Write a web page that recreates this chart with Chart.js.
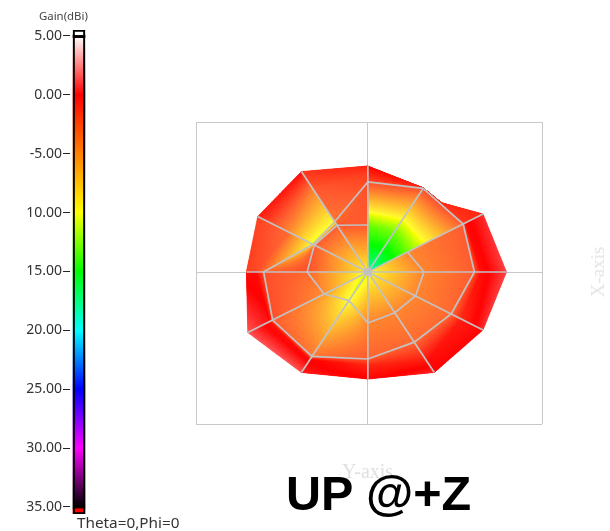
<!DOCTYPE html>
<html>
<head>
<meta charset="utf-8">
<title>UP @+Z</title>
<style>
  body { margin: 0; background: #fff; width: 610px; height: 531px; overflow: hidden; position: relative; }
  canvas { position: absolute; left: 0; top: 0; }
  .note { position: absolute; white-space: nowrap; }
  #gainTitle { left: 39px; top: 8px; font: 11.4px "Noto Sans", sans-serif; color: #444; }
  #cutLabel { left: 77px; top: 513px; font: 15.3px "Noto Sans", sans-serif; line-height: 18px; color: #333; }
  #yAxisName { left: 342px; top: 460px; font: 20px "Liberation Serif", serif; color: #e0e0e0; }
  #xAxisName { left: 598px; top: 272px; font: 19px "Liberation Serif", serif; color: #e4e4e4; transform: translate(-50%, -50%) rotate(-90deg); }
  #bigLabel { left: 286px; top: 465px; font: bold 48.5px "Liberation Sans", sans-serif; line-height: 56px; color: #000; }
</style>
</head>
<body>
<canvas id="gainBar" width="120" height="531"></canvas>
<canvas id="pattern" width="610" height="531"></canvas>
<div class="note" id="gainTitle">Gain(dBi)</div>
<div class="note" id="cutLabel">Theta=0,Phi=0</div>
<div class="note" id="yAxisName">Y-axis</div>
<div class="note" id="xAxisName">X-axis</div>
<div class="note" id="bigLabel">UP @+Z</div>
<script src="https://cdn.jsdelivr.net/npm/chart.js@4"></script>
<script>
'use strict';

// colour bar
const gainTicks = [5, 0, -5, -10, -15, -20, -25, -30, -35];
const gainTickLabels = ['5.00', '0.00', '-5.00', '10.00', '15.00', '20.00', '25.00', '30.00', '35.00'];
const mapGains = [5.2, 0, -10, -15, -20, -25, -30, -35];
const mapColors = [[255, 255, 255], [255, 0, 0], [255, 255, 0], [0, 255, 0], [0, 255, 255], [0, 0, 255], [255, 0, 255], [0, 0, 0]];

// measured pattern: radius per spoke, the 47 degree spoke only carries the notch in the outline
const spokeDeg = [0, 30, 47, 60, 90, 120, 150, 180, 210, 240, 270, 300, 330];
const innerRadius = [49, 40, 45, 48, 47, 54, 54, 53, 44, 33, 51, 47, 48];
const middleRadius = [93, 96, 93, 96.5, 90, 58, 55.5, 91, 96, 97.5, 87, 81, 84];
const shoulderRadius = [99.5, 99, 93.8, 96.7, 98, 97, 80, 98, 100, 102, 94, 103, 95];
const outerRadius = [121, 116, 94.5, 97, 106, 116, 111, 106, 121, 116, 107, 116, 116];
const innerRingHidden = [47, 60];

// gain at centre, inner, middle, shoulder, outer on both edges of each sector
const sectorStartGain = [
    [-10, -5.2, -3.5, -0.5, 1.3],
    [-18.5, -13, -3.5, -2, -1.5],
    [-18.5, -12.5, -3, -2, -1.8],
    [-18.5, -12.5, -3, -2, -1.5],
    [-9.5, -3.5, -3, -2.5, -1.5],
    [-9.5, -3.5, -10, -4.8, -0.4],
    [-9.5, -3.5, -10, -4, -2.5],
    [-10, -4, -3, -0.5, -0.5],
    [-10.5, -6, -3.5, -0.5, 1.6],
    [-11, -10, -4.5, 0, 0.5],
    [-10, -5.2, -3.8, -1.5, -0.3],
    [-9.5, -5.2, -4, -0.5, 0],
    [-9.5, -5.2, -4, -1.5, 0.8]
];
const sectorEndGain = [
    [-10, -5.2, -3.5, -0.3, 0.8],
    [-18.5, -12.5, -3, -2, -1.8],
    [-18.5, -12.5, -3, -2, -1.8],
    [-18, -13, -3, -1.5, -0.3],
    [-9.5, -3.5, -4.5, -3.3, -2],
    [-9.5, -3.5, -10.5, -5.2, -0.8],
    [-9.5, -3, -4, -3, -2.5],
    [-10.5, -5.5, -3, 0.3, 1.6],
    [-11, -10, -4.5, -0.3, 1.6],
    [-10.5, -5.2, -3.5, -1.5, 0],
    [-10, -5.2, -4, -1, 0.8],
    [-9.5, -5.2, -4, -1, 0],
    [-10, -5.2, -3.5, -0.5, 1.3]
];

function gainColor(gain) {
    if (gain >= mapGains[0]) return mapColors[0];
    for (let i = 1; i < mapGains.length; i++) {
        if (gain >= mapGains[i]) {
            const t = (gain - mapGains[i]) / (mapGains[i - 1] - mapGains[i]);
            return mapColors[i].map((c, k) => Math.round(c + (mapColors[i - 1][k] - c) * t));
        }
    }
    return mapColors[mapColors.length - 1];
}

function polar(radius, deg) {
    const a = deg * Math.PI / 180;
    return { x: radius * Math.cos(a), y: radius * Math.sin(a) };
}

// colour bar chart, the gradient comes from the y scale
function barGradient(context) {
    const chart = context.chart;
    const scale = chart.scales.y;
    if (!scale || !chart.chartArea) return '#f00';
    const top = scale.getPixelForValue(5);
    const bottom = scale.getPixelForValue(-35);
    const gradient = chart.ctx.createLinearGradient(0, top, 0, bottom);
    mapGains.forEach((g, i) => {
        const c = mapColors[i];
        gradient.addColorStop(Math.min(1, Math.max(0, (5 - g) / 40)), `rgb(${c[0]},${c[1]},${c[2]})`);
    });
    return gradient;
}

new Chart(document.getElementById('gainBar'), {
    type: 'bar',
    data: {
        labels: ['gain'],
        datasets: [
            { data: [[-35.6, 5.5]], backgroundColor: 'rgba(0,0,0,0)', borderColor: '#000', borderWidth: 1.5, borderSkipped: false, order: 0 },
            { data: [[5.1, 5.5]], backgroundColor: '#fff', order: 1 },
            { data: [[4.85, 5.1]], backgroundColor: '#000', order: 1 },
            { data: [[-35.6, -35.15]], backgroundColor: '#f00', order: 1 },
            { data: [[-35.15, 4.85]], backgroundColor: barGradient, order: 2 }
        ]
    },
    options: {
        responsive: false,
        animation: false,
        layout: { padding: { top: 30, bottom: 17, right: 32 } },
        plugins: { legend: { display: false }, tooltip: { enabled: false } },
        datasets: { bar: { grouped: false, barThickness: 12 } },
        scales: {
            x: { display: false },
            y: {
                min: -35.6,
                max: 5.5,
                afterBuildTicks: scale => { scale.ticks = gainTicks.map(value => ({ value })); },
                afterFit: scale => { scale.width = 70; },
                border: { display: false },
                grid: { drawOnChartArea: false, tickLength: 7, tickColor: '#222', tickWidth: 1 },
                ticks: {
                    padding: 1,
                    color: '#333',
                    autoSkip: false,
                    font: { family: '"Noto Sans"', size: 14 },
                    callback: value => gainTickLabels[gainTicks.indexOf(value)]
                }
            }
        }
    }
});

// the surface has a slight haze over the warm colours, red stays pure
function surfaceColor(gain) {
    const c = gainColor(gain);
    const haze = c[0] === 255 && c[2] < 45 ? Math.min(45, c[1] * 0.5) : c[2];
    return `rgb(${c[0]},${c[1]},${Math.round(Math.max(c[2], haze))})`;
}

// shaded surface, one small quad at a time so the gain blends across each cell
const surfacePlugin = {
    id: 'surface',
    beforeDatasetsDraw(chart) {
        const ctx = chart.ctx;
        const xs = chart.scales.x;
        const ys = chart.scales.y;
        const rings = [spokeDeg.map(() => 0), innerRadius, middleRadius, shoulderRadius, outerRadius];
        const steps = 28;
        ctx.save();
        ctx.lineWidth = 0.7;
        for (let j = 0; j < spokeDeg.length; j++) {
            const next = (j + 1) % spokeDeg.length;
            for (let r = 0; r < rings.length - 1; r++) {
                const a0 = polar(rings[r][j], spokeDeg[j]);
                const b0 = polar(rings[r][next], spokeDeg[next]);
                const a1 = polar(rings[r + 1][j], spokeDeg[j]);
                const b1 = polar(rings[r + 1][next], spokeDeg[next]);
                const at = (u, v) => {
                    const x = (a0.x + (b0.x - a0.x) * u) * (1 - v) + (a1.x + (b1.x - a1.x) * u) * v;
                    const y = (a0.y + (b0.y - a0.y) * u) * (1 - v) + (a1.y + (b1.y - a1.y) * u) * v;
                    return [xs.getPixelForValue(x), ys.getPixelForValue(y)];
                };
                for (let m = 0; m < steps; m++) {
                    for (let n = 0; n < steps; n++) {
                        const u = (m + 0.5) / steps;
                        const v = (n + 0.5) / steps;
                        const g0 = sectorStartGain[j][r] + (sectorEndGain[j][r] - sectorStartGain[j][r]) * u;
                        const g1 = sectorStartGain[j][r + 1] + (sectorEndGain[j][r + 1] - sectorStartGain[j][r + 1]) * u;
                        const color = surfaceColor(g0 + (g1 - g0) * v);
                        const corners = [at(m / steps, n / steps), at((m + 1) / steps, n / steps),
                            at((m + 1) / steps, (n + 1) / steps), at(m / steps, (n + 1) / steps)];
                        ctx.beginPath();
                        ctx.moveTo(corners[0][0], corners[0][1]);
                        corners.slice(1).forEach(p => ctx.lineTo(p[0], p[1]));
                        ctx.closePath();
                        ctx.fillStyle = color;
                        ctx.strokeStyle = color;
                        ctx.fill();
                        ctx.stroke();
                    }
                }
            }
        }
        ctx.restore();
    }
};

const webColor = '#c2c2c2';

function webLine(points) {
    return { data: points, showLine: true, borderColor: webColor, borderWidth: 1.7, pointRadius: 0 };
}

const webDatasets = [];
webDatasets.push(webLine([...spokeDeg, spokeDeg[0]].map((deg, i) =>
    polar(middleRadius[i % spokeDeg.length], deg))));
webDatasets.push(webLine([...spokeDeg, spokeDeg[0]].map((deg, i) =>
    innerRingHidden.includes(deg) ? { x: null, y: null } : polar(innerRadius[i % spokeDeg.length], deg))));
spokeDeg.forEach((deg, i) => {
    if (deg % 30 === 0) webDatasets.push(webLine([{ x: 0, y: 0 }, polar(outerRadius[i], deg)]));
});
webDatasets.push({ data: [{ x: 0, y: 0 }], pointRadius: 4, pointBackgroundColor: webColor, pointBorderWidth: 0 });

const frameXTicks = [-150, 0, 152];
const frameYTicks = [-152, 0, 150];

function frameAxis(frameTicks) {
    return {
        type: 'linear',
        min: frameTicks[0],
        max: frameTicks[2],
        afterBuildTicks: scale => { scale.ticks = frameTicks.map(value => ({ value })); },
        grid: { color: '#c8c8c8', lineWidth: 1, drawTicks: false },
        border: { display: false },
        ticks: { display: false }
    };
}

new Chart(document.getElementById('pattern'), {
    type: 'scatter',
    data: { datasets: webDatasets },
    options: {
        responsive: false,
        animation: false,
        layout: { padding: { left: 196, right: 68, top: 122, bottom: 107 } },
        plugins: { legend: { display: false }, tooltip: { enabled: false } },
        scales: { x: frameAxis(frameXTicks), y: frameAxis(frameYTicks) }
    },
    plugins: [surfacePlugin]
});
</script>
</body>
</html>
